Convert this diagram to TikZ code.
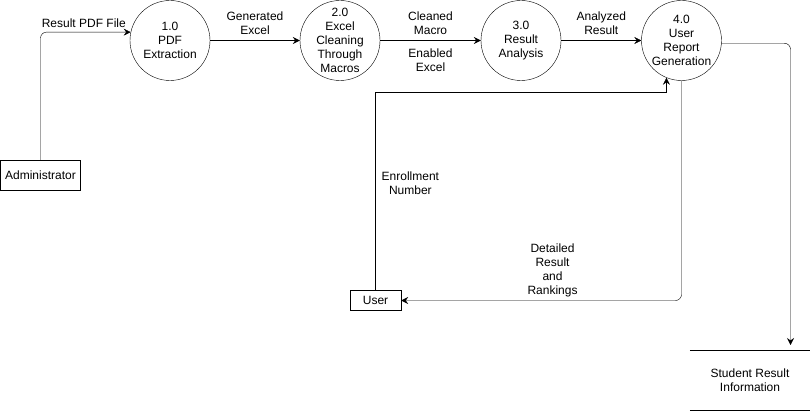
\documentclass[tikz,border=0pt]{standalone}
\usepackage{fontspec}
\setmainfont{Liberation Sans}
\usetikzlibrary{arrows.meta}
\tikzset{>={Stealth[length=7pt,width=7pt,inset=2.5pt]}, line width=1pt}
\tikzset{
  proc/.style={circle,draw,minimum size=80pt,inner sep=0pt,align=center},
  ent/.style={rectangle,draw,inner sep=0pt,align=center},
  lbl/.style={align=center,inner sep=5pt},
  flow/.style={->}
}

\begin{document}
\begin{tikzpicture}[x=1pt,y=-1pt,font=\fontsize{12}{14}\selectfont]
  \useasboundingbox (0,0) rectangle (811,411);

  % processes
  \node[proc] (p1) at (170,40.5) {1.0\\PDF\\Extraction};
  \node[proc] (p2) at (340,40.5) {2.0\\Excel\\Cleaning\\Through\\Macros};
  \node[proc] (p3) at (521,40.5) {3.0\\Result\\Analysis};
  \node[proc] (p4) at (681.5,40.5) {4.0\\User\\Report\\Generation};

  % entities
  \node[ent,minimum width=80pt,minimum height=30pt] (admin) at (40.5,175) {Administrator};
  \node[ent,minimum width=51pt,minimum height=20pt] (user) at (375.5,300.5) {User};

  % data store
  \node[align=center,minimum width=120pt,minimum height=60pt,inner sep=0pt]
    (srinfo) at (750,380) {Student Result\\Information};
  \draw (srinfo.north west) -- (srinfo.north east);
  \draw (srinfo.south west) -- (srinfo.south east);

  % helper points
  \coordinate (c1) at (p4.248 |- 0,92.5);
  \coordinate (c2) at (790.5,345);

  % flows
  \draw[flow,rounded corners=6pt] (admin.north) |-
    node[lbl,above,pos=0.74,inner sep=4pt] {Result PDF File} (p1.168);
  \draw[flow] (p1) -- node[lbl,above,inner sep=6pt] {Generated\\Excel} (p2);
  \draw[flow] (p2) -- node[lbl,above,inner sep=6pt] {Cleaned\\Macro}
    node[lbl,below,inner sep=8pt] {Enabled\\Excel} (p3);
  \draw[flow] (p3) -- node[lbl,above,inner sep=6pt] {Analyzed\\Result} (p4);
  \draw[flow] (user.north) |-
    node[lbl,right,pos=0.27,inner sep=6pt] {Enrollment\\Number} (c1) -- (p4.248);
  \draw[flow,rounded corners=6pt] (p4.south) |-
    node[lbl,above,pos=0.73,inner sep=3pt] {Detailed\\Result\\and\\Rankings} (user.east);
  \draw[flow,rounded corners=6pt] (p4.-4) -| (c2);
\end{tikzpicture}
\end{document}
